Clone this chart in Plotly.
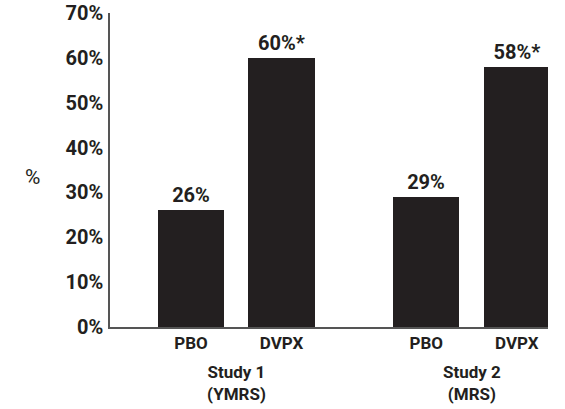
import plotly.graph_objects as go

# Data
studies = ["Study 1<br>(YMRS)", "Study 2<br>(MRS)"]
treatments = ["PBO", "DVPX"]
values = [[26, 60], [29, 58]]
value_labels = [["26%", "60%*"], ["29%", "58%*"]]
y_ticks = [0, 10, 20, 30, 40, 50, 60, 70]
y_ticklabels = ["0%", "10%", "20%", "30%", "40%", "50%", "60%", "70%"]

GROUP_STEP = 2.6
BAR_COLOR = "#231f20"
TEXT_COLOR = "#231f20"
FONT = "Roboto, Liberation Sans, sans-serif"

xs, ys, texts, ticktext = [], [], [], []
for g, study in enumerate(studies):
    for j, t in enumerate(treatments):
        xs.append(g * GROUP_STEP + j)
        ys.append(values[g][j])
        texts.append(value_labels[g][j])
        ticktext.append(t)

fig = go.Figure()
fig.add_trace(go.Bar(
    x=xs, y=ys, width=0.73,
    marker=dict(color=BAR_COLOR, line=dict(width=0)),
    text=texts, textposition="outside", cliponaxis=False,
    textfont=dict(family=FONT, size=20, color=TEXT_COLOR, weight="bold"),
    hoverinfo="skip",
))

for g, study in enumerate(studies):
    fig.add_annotation(
        x=g * GROUP_STEP + 0.5, xref="x", y=-0.177, yref="paper",
        text=study, showarrow=False, xanchor="center", yanchor="middle",
        font=dict(family=FONT, size=17, color=TEXT_COLOR, weight="bold"),
    )

fig.add_annotation(
    x=-0.178, xref="paper", y=0.478, yref="paper", text="%", showarrow=False,
    xanchor="center", yanchor="middle",
    font=dict(family=FONT, size=21, color=TEXT_COLOR),
)

fig.update_layout(
    width=565, height=409,
    margin=dict(l=110, r=17, t=13, b=82, autoexpand=False),
    paper_bgcolor="white", plot_bgcolor="white",
    showlegend=False, bargap=0,
    xaxis=dict(
        range=[-0.895, 3.945], tickvals=xs, ticktext=ticktext,
        showline=True, linecolor="#555555", linewidth=1.5,
        showgrid=False, zeroline=False, ticks="", automargin=False,
        tickfont=dict(family=FONT, size=17, color=TEXT_COLOR, weight="bold"),
        ticklabelstandoff=0, fixedrange=True,
    ),
    yaxis=dict(
        range=[0, 70], tickvals=y_ticks, ticktext=y_ticklabels,
        showline=True, linecolor="#555555", linewidth=1.5,
        showgrid=False, zeroline=False, ticks="", automargin=False,
        tickfont=dict(family=FONT, size=20, color=TEXT_COLOR, weight="bold"),
        ticklabelstandoff=1, fixedrange=True,
    ),
)

fig.write_html("out.html", config={"displayModeBar": False},
               post_script="document.body.style.margin='0';")
